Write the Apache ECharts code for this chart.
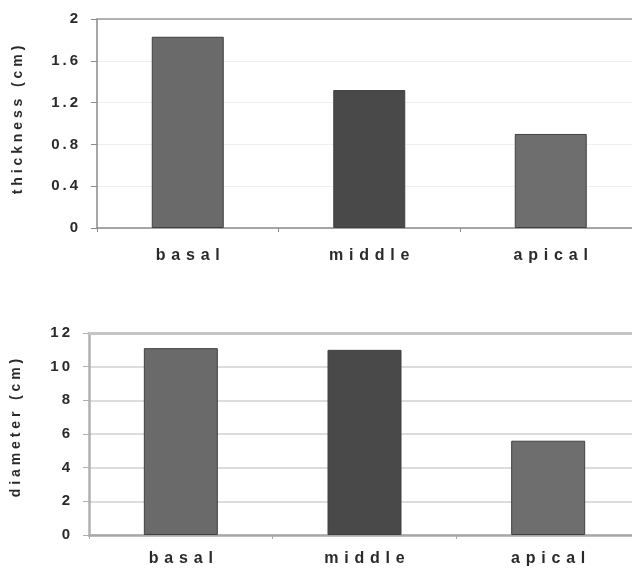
<!DOCTYPE html>
<html>
<head>
<meta charset="utf-8">
<script src="https://cdn.jsdelivr.net/npm/echarts@6/dist/echarts.min.js"></script>
<style>
html,body{margin:0;padding:0;background:#fff;}
#chart{width:632px;height:570px;}
</style>
</head>
<body>
<div id="chart"></div>
<script>
const categories = ['basal', 'middle', 'apical'];
const thicknessValues = [1.83, 1.32, 0.90];
const diameterValues = [11.1, 11.0, 5.6];
const thicknessAxis = { name: 'thickness (cm)', max: 2, interval: 0.4 };
const diameterAxis = { name: 'diameter (cm)', max: 12, interval: 2 };
const barColors = ['#6a6a6a', '#494949', '#6e6e6e'];

const FONT = '"Liberation Sans", Arial, sans-serif';
function spaced(s, sep) { return String(s).split('').join(sep); }

function barSeries(values, axisIdx, width) {
  return {
    type: 'bar',
    xAxisIndex: axisIdx, yAxisIndex: axisIdx,
    barWidth: width,
    data: values.map((v, i) => ({
      value: v,
      itemStyle: { color: barColors[i], borderColor: '#404040', borderWidth: 1 }
    }))
  };
}

function yAx(gridIdx, cfg, gap, namePad, axisColor, axisWidth, splitColor, splitWidth) {
  return {
    type: 'value', gridIndex: gridIdx, min: 0, max: cfg.max, interval: cfg.interval,
    name: spaced(cfg.name, ' '), nameLocation: 'middle', nameGap: gap, nameRotate: 90,
    nameTextStyle: { fontFamily: FONT, fontWeight: 'bold', fontSize: 14, color: '#2a2a2a', padding: [0, 0, 0, namePad] },
    axisLine: { show: true, lineStyle: { color: axisColor, width: axisWidth } },
    axisTick: { show: true, length: 6, lineStyle: { color: axisColor, width: 1 } },
    axisLabel: { margin: 19, fontFamily: FONT, fontWeight: 'bold', fontSize: 15, color: '#2a2a2a',
      formatter: v => spaced(+v.toFixed(1), '\u2009') },
    splitLine: { show: true, lineStyle: { color: splitColor, width: splitWidth } }
  };
}

function xAx(gridIdx, axisColor, axisWidth, margin) {
  return {
    type: 'category', gridIndex: gridIdx, data: categories,
    axisLine: { show: true, lineStyle: { color: axisColor, width: axisWidth } },
    axisTick: { show: true, length: 4, lineStyle: { color: axisColor } },
    axisLabel: { margin: margin, fontFamily: FONT, fontWeight: 'bold', fontSize: 16, color: '#2a2a2a',
      formatter: v => spaced(v, ' \u200A') }
  };
}

function topLine(gridIdx, color, width) {
  return {
    type: 'category', gridIndex: gridIdx, position: 'top', data: categories,
    axisLine: { show: true, onZero: false, lineStyle: { color: color, width: width } },
    axisTick: { show: false }, axisLabel: { show: false }, splitLine: { show: false }
  };
}

const chart = echarts.init(document.getElementById('chart'), null, { renderer: 'canvas' });
chart.setOption({
  animation: false,
  backgroundColor: '#ffffff',
  grid: [
    { left: 97, top: 19, width: 544.5, height: 209, containLabel: false, outerBoundsMode: 'none' },
    { left: 89, top: 333, width: 551, height: 202, containLabel: false, outerBoundsMode: 'none' }
  ],
  xAxis: [
    xAx(0, '#8a8a8a', 1.5, 20), xAx(1, '#a8a8a8', 2.5, 16),
    topLine(0, '#9a9a9a', 1.5), topLine(1, '#c4c4c4', 3)
  ],
  yAxis: [
    yAx(0, thicknessAxis, 72, 7, '#8a8a8a', 1.5, '#efefef', 1),
    yAx(1, diameterAxis, 66, 12, '#b0b0b0', 2.5, '#d2d2d2', 1.5)
  ],
  series: [ barSeries(thicknessValues, 0, 72), barSeries(diameterValues, 1, 74) ]
});
</script>
</body>
</html>
